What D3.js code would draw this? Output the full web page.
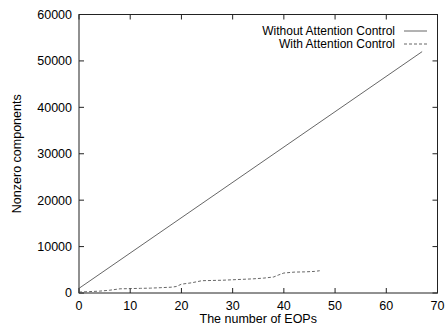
<!DOCTYPE html>
<html>
<head>
    <style>
        body { margin: 0; background: #fff; }
        text { font-family: "Liberation Sans", Arial, sans-serif; font-size: 12.5px; fill: #000; }
        .legend text { font-size: 12px; }
        .frame { fill: none; stroke: #222; stroke-width: 1px; }
        .tick { stroke: #222; stroke-width: 1px; }
        .line { fill: none; stroke: #555; stroke-width: 0.9px; }
    </style>
</head>
<body>
    <script src="https://d3js.org/d3.v7.min.js"></script>
    <script>
        // Series values
        var withoutX = [0, 67];
        var withoutY = [1000, 52000];

        var withX = [0, 2, 4, 6, 8, 10, 12, 14, 16, 18, 19, 20, 22, 24, 26, 28, 30, 32, 34, 36, 38, 39, 40, 42, 44, 46, 47];
        var withY = [200, 300, 400, 600, 900, 950, 1000, 1050, 1150, 1250, 1400, 1900, 2200, 2650, 2700, 2750, 2850, 2950, 3050, 3200, 3450, 3900, 4300, 4500, 4550, 4650, 4800];

        var xTicks = [0, 10, 20, 30, 40, 50, 60, 70];
        var yTicks = [0, 10000, 20000, 30000, 40000, 50000, 60000];
        var seriesNames = ["Without Attention Control", "With Attention Control"];

        var W = 445, H = 329;
        var margin = { top: 14.5, right: 7.5, bottom: 36, left: 79 };
        var width = W - margin.left - margin.right,
            height = H - margin.top - margin.bottom;

        var x = d3.scaleLinear().domain([0, 70]).range([0, width]);
        var y = d3.scaleLinear().domain([0, 60000]).range([height, 0]);

        var svg = d3.select("body").append("svg")
            .attr("width", W)
            .attr("height", H)
            .append("g")
            .attr("transform", "translate(" + margin.left + "," + margin.top + ")");

        var tl = 5;

        // x ticks, mirrored on top
        xTicks.forEach(function (t) {
            svg.append("line").attr("class", "tick")
                .attr("x1", x(t)).attr("x2", x(t)).attr("y1", height).attr("y2", height - tl);
            svg.append("line").attr("class", "tick")
                .attr("x1", x(t)).attr("x2", x(t)).attr("y1", 0).attr("y2", tl);
            svg.append("text")
                .attr("x", x(t)).attr("y", height + 13)
                .attr("dy", "0.35em")
                .style("text-anchor", "middle")
                .text(t);
        });

        // y ticks, mirrored on right
        yTicks.forEach(function (t) {
            svg.append("line").attr("class", "tick")
                .attr("x1", 0).attr("x2", tl).attr("y1", y(t)).attr("y2", y(t));
            svg.append("line").attr("class", "tick")
                .attr("x1", width).attr("x2", width - tl).attr("y1", y(t)).attr("y2", y(t));
            svg.append("text")
                .attr("x", -7).attr("y", y(t))
                .attr("dy", "0.35em")
                .style("text-anchor", "end")
                .text(t);
        });

        svg.append("rect").attr("class", "frame")
            .attr("x", 0).attr("y", 0).attr("width", width).attr("height", height);

        // axis labels
        svg.append("text")
            .attr("x", width / 2).attr("y", height + 26)
            .attr("dy", "0.35em")
            .style("text-anchor", "middle")
            .text("The number of EOPs");

        svg.append("text")
            .attr("transform", "translate(" + (17 - margin.left) + "," + (height / 2) + ") rotate(-90)")
            .attr("dy", "0.35em")
            .style("text-anchor", "middle")
            .text("Nonzero components");

        var line = d3.line()
            .x(function (d) { return x(d[0]); })
            .y(function (d) { return y(d[1]); });

        svg.append("path").attr("class", "line")
            .attr("d", line(d3.zip(withoutX, withoutY)));

        svg.append("path").attr("class", "line")
            .attr("stroke-dasharray", "3,2")
            .attr("d", line(d3.zip(withX, withY)));

        // legend
        var legend = svg.append("g").attr("class", "legend");
        seriesNames.forEach(function (name, i) {
            var ly = 16.5 + i * 13;
            legend.append("text")
                .attr("x", 316).attr("y", ly)
                .attr("dy", "0.35em")
                .style("text-anchor", "end")
                .text(name);
            legend.append("line").attr("class", "line")
                .attr("x1", 325).attr("x2", 348)
                .attr("y1", ly).attr("y2", ly)
                .attr("stroke-dasharray", i === 1 ? "3,2" : null);
        });
    </script>
</body>
</html>
